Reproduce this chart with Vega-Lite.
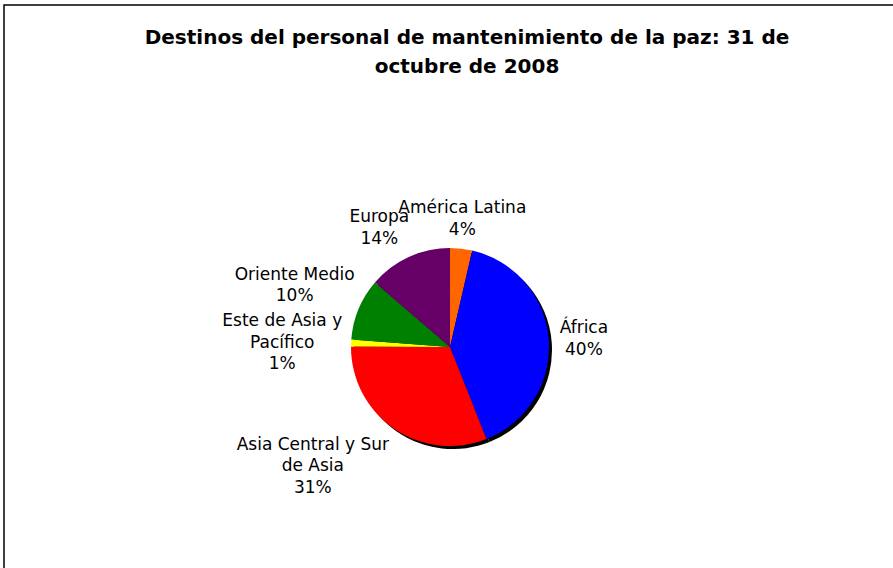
{
  "$schema": "https://vega.github.io/schema/vega-lite/v6.json",
  "width": 892,
  "height": 566,
  "autosize": "none",
  "padding": {"left": 4, "top": 5, "right": 0, "bottom": 0},
  "background": "white",
  "view": {"stroke": "#000000", "strokeWidth": 1.5, "fill": "white"},
  "title": {
    "text": ["Destinos del personal de mantenimiento de la paz: 31 de", "octubre de 2008"],
    "font": "DejaVu Sans",
    "fontSize": 20,
    "fontWeight": "bold",
    "color": "#000000",
    "anchor": "middle",
    "frame": "group",
    "baseline": "top",
    "offset": -72,
    "dx": 17,
    "lineHeight": 29
  },
  "data": {
    "values": [
      {"region": "América Latina", "valor": 3.6, "orden": 1, "etiqueta": "América Latina\n4%"},
      {"region": "África", "valor": 40.4, "orden": 2, "etiqueta": "África\n40%"},
      {"region": "Asia Central y Sur de Asia", "valor": 31.1, "orden": 3, "etiqueta": "Asia Central y Sur\nde Asia\n31%"},
      {"region": "Este de Asia y Pacífico", "valor": 1.1, "orden": 4, "etiqueta": "Este de Asia y\nPacífico\n1%"},
      {"region": "Oriente Medio", "valor": 10.1, "orden": 5, "etiqueta": "Oriente Medio\n10%"},
      {"region": "Europa", "valor": 13.7, "orden": 6, "etiqueta": "Europa\n14%"}
    ]
  },
  "encoding": {
    "theta": {"field": "valor", "type": "quantitative", "stack": true},
    "order": {"field": "orden", "type": "quantitative"}
  },
  "layer": [
    {
      "mark": {"type": "arc", "radius": 99, "xOffset": 3, "yOffset": 62, "color": "#000000", "strokeWidth": 0},
      "encoding": {}
    },
    {
      "mark": {"type": "arc", "radius": 99, "xOffset": 0, "yOffset": 59, "strokeWidth": 0},
      "encoding": {
        "color": {
          "field": "region",
          "type": "nominal",
          "legend": null,
          "scale": {
            "domain": ["América Latina", "África", "Asia Central y Sur de Asia", "Este de Asia y Pacífico", "Oriente Medio", "Europa"],
            "range": ["#FF6600", "#0000FF", "#FF0000", "#FFFF00", "#008000", "#660066"]
          }
        }
      }
    },
    {
      "mark": {
        "type": "text",
        "radius": 109,
        "xOffset": 0,
        "yOffset": 59,
        "font": "DejaVu Sans",
        "fontSize": 17,
        "lineHeight": 21.5,
        "lineBreak": "\n",
        "color": "#000000",
        "align": "center",
        "baseline": {"expr": "cos(PI*(datum.valor_start+datum.valor_end)/100) > 0.3 ? 'bottom' : (cos(PI*(datum.valor_start+datum.valor_end)/100) < -0.3 ? 'top' : 'middle')"},
        "dy": {"expr": "(cos(PI*(datum.valor_start+datum.valor_end)/100) > 0.3 ? -1 : (cos(PI*(datum.valor_start+datum.valor_end)/100) < -0.3 ? 0 : -0.5)) * (length(split(datum.etiqueta, '\\n')) - 1) * 21.5"},
        "dx": {"expr": "(sin(PI*(datum.valor_start+datum.valor_end)/100) > 0.3 ? 1 : (sin(PI*(datum.valor_start+datum.valor_end)/100) < -0.3 ? -1 : 0)) * 4.2 * max(length(split(datum.etiqueta, '\\n')[0]), length(split(datum.etiqueta, '\\n')[1]))"}
      },
      "encoding": {
        "text": {"field": "etiqueta", "type": "nominal"}
      }
    }
  ]
}
